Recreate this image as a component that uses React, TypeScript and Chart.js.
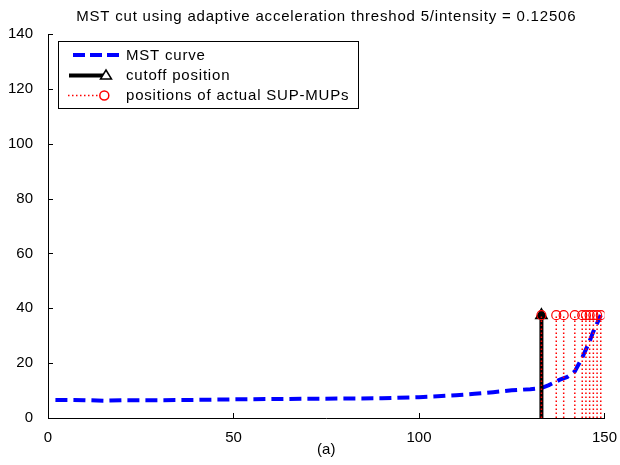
import React, { useEffect, useRef } from "react";
import { Chart, registerables } from "chart.js";

Chart.register(...registerables);

// ---- data ----
const mstX = [2, 10, 15, 20, 30, 40, 50, 60, 70, 80, 90, 100, 105, 110, 115, 120, 125, 130, 133, 135, 137, 138, 140, 142, 143, 144, 145, 146, 147, 148, 149];
const mstY = [6.6, 6.5, 6.3, 6.5, 6.5, 6.6, 6.8, 6.9, 7.0, 7.1, 7.2, 7.6, 7.9, 8.3, 8.8, 9.4, 10.1, 10.5, 10.9, 12.0, 13.3, 14.0, 15.0, 17.0, 19.5, 22.0, 25.0, 28.0, 31.5, 34.5, 37.5];
const cutoffX = 133;
const cutoffTop = 37.5;
const supX = [133, 137, 139, 142, 144, 145, 146, 147, 148, 149];
const supY = 37.5;
const xTicks = [0, 50, 100, 150];
const yTicks = [0, 20, 40, 60, 80, 100, 120, 140];
const titleText = "MST cut using adaptive acceleration threshod 5/intensity = 0.12506";
const xLabel = "(a)";
const legendLabels = ["MST curve", "cutoff position", "positions of actual SUP-MUPs"];

const FONT = '"Liberation Sans", Arial, Helvetica, sans-serif';

const decor = {
  id: "decor",
  afterDraw(chart: any) {
    const ctx: CanvasRenderingContext2D = chart.ctx;
    const { left, right, bottom } = chart.chartArea;
    const xs = chart.scales.x;
    const ys = chart.scales.y;
    ctx.save();
    // inward ticks
    ctx.strokeStyle = "#000";
    ctx.lineWidth = 1;
    ctx.setLineDash([]);
    ctx.beginPath();
    xTicks.forEach((v) => {
      const p = Math.round(xs.getPixelForValue(v)) + 0.5;
      ctx.moveTo(p, bottom);
      ctx.lineTo(p, bottom - 5);
    });
    yTicks.forEach((v) => {
      const p = Math.round(ys.getPixelForValue(v)) + 0.5;
      ctx.moveTo(left, p);
      ctx.lineTo(left + 5, p);
    });
    ctx.stroke();

    // title and x label
    ctx.fillStyle = "#000";
    ctx.font = `15px ${FONT}`;
    (ctx as any).letterSpacing = "0.8px";
    ctx.textAlign = "center";
    ctx.textBaseline = "alphabetic";
    ctx.fillText(titleText, (left + right) / 2, 20.5);
    (ctx as any).letterSpacing = "0px";
    ctx.fillText(xLabel, (left + right) / 2, 454);

    // legend box
    const bx = 58.5, by = 41.5, bw = 300, bh = 67;
    ctx.fillStyle = "#fff";
    ctx.fillRect(bx, by, bw, bh);
    ctx.strokeStyle = "#000";
    ctx.lineWidth = 1;
    ctx.strokeRect(bx, by, bw, bh);

    const rows = [55, 75.5, 95.5];
    // row 1: blue dashed
    ctx.strokeStyle = "#0000ff";
    ctx.lineWidth = 4;
    ctx.setLineDash([12, 5]);
    ctx.beginPath();
    ctx.moveTo(73, rows[0]);
    ctx.lineTo(121, rows[0]);
    ctx.stroke();
    // row 2: black line + triangle
    ctx.setLineDash([]);
    ctx.strokeStyle = "#000";
    ctx.lineWidth = 4;
    ctx.beginPath();
    ctx.moveTo(69, rows[1]);
    ctx.lineTo(104, rows[1]);
    ctx.stroke();
    ctx.lineWidth = 1.5;
    ctx.beginPath();
    ctx.moveTo(106, rows[1] - 5.5);
    ctx.lineTo(111.5, rows[1] + 3.5);
    ctx.lineTo(100.5, rows[1] + 3.5);
    ctx.closePath();
    ctx.fillStyle = "#fff";
    ctx.fill();
    ctx.stroke();
    // row 3: red dotted + circle
    ctx.strokeStyle = "#ff0000";
    ctx.lineWidth = 1.5;
    ctx.setLineDash([1.5, 2.5]);
    ctx.beginPath();
    ctx.moveTo(68, rows[2]);
    ctx.lineTo(100, rows[2]);
    ctx.stroke();
    ctx.setLineDash([]);
    ctx.lineWidth = 1.5;
    ctx.beginPath();
    ctx.arc(104.3, rows[2], 4.5, 0, Math.PI * 2);
    ctx.stroke();

    // legend text
    ctx.fillStyle = "#000";
    ctx.font = `15px ${FONT}`;
    (ctx as any).letterSpacing = "0.8px";
    ctx.textAlign = "left";
    ctx.textBaseline = "middle";
    legendLabels.forEach((t, i) => ctx.fillText(t, 126, rows[i] + 0.5));
    ctx.restore();
  },
};

export default function App() {
  const ref = useRef<HTMLCanvasElement>(null);
  useEffect(() => {
    document.body.style.margin = "0";
    const redLines: any[] = [];
    supX.forEach((x) => {
      redLines.push({ x, y: 0 });
      redLines.push({ x, y: supY });
      redLines.push({ x, y: null });
    });
    const chart = new Chart(ref.current!, {
      type: "line",
      data: {
        datasets: [
          {
            label: legendLabels[0],
            data: mstX.map((x, i) => ({ x, y: mstY[i] })),
            borderColor: "#0000ff",
            borderWidth: 4,
            borderDash: [12, 6],
            borderCapStyle: "butt",
            pointRadius: 0,
            tension: 0,
            order: 4,
          },
          {
            label: legendLabels[1],
            data: [
              { x: cutoffX, y: 0 },
              { x: cutoffX, y: cutoffTop },
            ],
            borderColor: "#000",
            borderWidth: 4,
            pointRadius: [0, 6],
            pointStyle: "triangle",
            pointBorderColor: "#000",
            pointBackgroundColor: "#000",
            pointBorderWidth: 2,
            order: 3,
          },
          {
            label: "sup-lines",
            data: redLines,
            borderColor: "#ff0000",
            backgroundColor: "#ff0000",
            borderWidth: 1.5,
            borderDash: [1.5, 2.5],
            pointRadius: 0,
            spanGaps: false,
            order: 2,
          },
          {
            label: legendLabels[2],
            data: supX.map((x) => ({ x, y: supY })),
            showLine: false,
            pointStyle: "circle",
            pointRadius: 4.5,
            pointBorderColor: "#ff0000",
            pointBackgroundColor: "rgba(0,0,0,0)",
            pointBorderWidth: 1.2,
            order: 1,
          },
        ],
      } as any,
      options: {
        responsive: false,
        animation: false,
        devicePixelRatio: 1,
        layout: { padding: { top: 34, right: 14, left: 0, bottom: 0 } },
        plugins: {
          legend: { display: false },
          title: { display: false },
          tooltip: { enabled: false },
        },
        scales: {
          x: {
            type: "linear",
            min: 0,
            max: 150,
            grid: { display: false },
            border: { display: true, color: "#000", width: 1 },
            ticks: {
              stepSize: 50,
              color: "#000",
              font: { size: 15, family: FONT },
              padding: 3,
              maxRotation: 0,
              autoSkip: false,
            },
            afterFit: (s: any) => {
              s.height = 47;
            },
          },
          y: {
            type: "linear",
            min: 0,
            max: 140,
            grid: { display: false },
            border: { display: true, color: "#000", width: 1 },
            ticks: {
              stepSize: 20,
              color: "#000",
              font: { size: 15, family: FONT },
              padding: 7,
            },
            afterFit: (s: any) => {
              s.width = 48;
            },
          },
        },
      } as any,
      plugins: [decor],
    });
    return () => chart.destroy();
  }, []);
  return (
    <div style={{ width: 620, height: 465, background: "#fff" }}>
      <canvas ref={ref} width={620} height={465} style={{ display: "block" }} />
    </div>
  );
}
